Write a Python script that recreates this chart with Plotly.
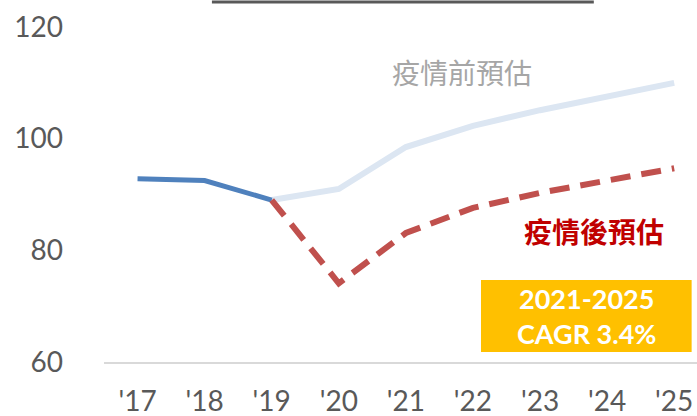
import plotly.graph_objects as go

years = ["'17", "'18", "'19", "'20", "'21", "'22", "'23", "'24", "'25"]
actual = [92.8, 92.5, 89.0]
pre_covid = [None, None, 89.0, 91.0, 98.5, 102.3, 105.1, 107.5, 110.0]
post_covid = [None, None, 89.0, 74.1, 83.1, 87.6, 90.3, 92.6, 94.7]
y_ticks = [60, 80, 100, 120]

xs = list(range(len(years)))
font_main = "Lato, 'Noto Sans CJK TC', sans-serif"
font_cjk = "'Noto Sans CJK TC', sans-serif"

fig = go.Figure()
fig.add_trace(go.Scatter(x=xs, y=pre_covid, mode='lines',
                         line=dict(color='#DCE6F2', width=6), name='疫情前預估'))
fig.add_trace(go.Scatter(x=xs[:3], y=actual, mode='lines',
                         line=dict(color='#4F81BD', width=5), name='實際'))
fig.add_trace(go.Scatter(x=xs, y=post_covid, mode='lines',
                         line=dict(color='#C0504D', width=6, dash='20px,11px'), name='疫情後預估'))

# labels and callout
fig.add_annotation(x=4.84, y=111.9, text='疫情前預估', showarrow=False,
                   font=dict(family=font_cjk, size=28, color='#A6A6A6'))
fig.add_annotation(x=6.80, y=83.5, text='<b>疫情後預估</b>', showarrow=False,
                   font=dict(family=font_cjk, size=28, color='#C00000'))
fig.add_shape(type='rect', x0=5.12, x1=8.26, y0=61.8, y1=74.7,
              fillcolor='#FFC000', line=dict(width=0), layer='below')
fig.add_annotation(x=6.69, y=68.25, text='<b>2021-2025<br>CAGR 3.4%</b>', showarrow=False,
                   font=dict(family=font_main, size=27, color='white'))
# title rule cut off at the top
fig.add_shape(type='line', xref='paper', yref='paper', x0=0.182, x1=0.826, y0=1.0746, y1=1.0746,
              line=dict(color='#595959', width=3))

fig.update_layout(
    width=697, height=416,
    margin=dict(l=104, r=0, t=27, b=54),
    plot_bgcolor='white', paper_bgcolor='white',
    showlegend=False,
    font=dict(family=font_main, color='#595959', size=28),
)
fig.update_xaxes(range=[-0.5, 8.34], tickvals=xs, ticktext=years, showgrid=False,
                 zeroline=False, showline=True, linecolor='#D9D9D9', linewidth=1.5,
                 ticklabelstandoff=14, tickfont=dict(size=28), automargin=False)
fig.update_yaxes(range=[60, 120], tickvals=y_ticks, showgrid=False, zeroline=False,
                 ticklabelstandoff=40, tickfont=dict(size=28), automargin=False)

# drop the default page margin so the figure sits at the window corner
fig.write_html("out.html", config={'displayModeBar': False},
               post_script="document.body.style.margin='0';")
